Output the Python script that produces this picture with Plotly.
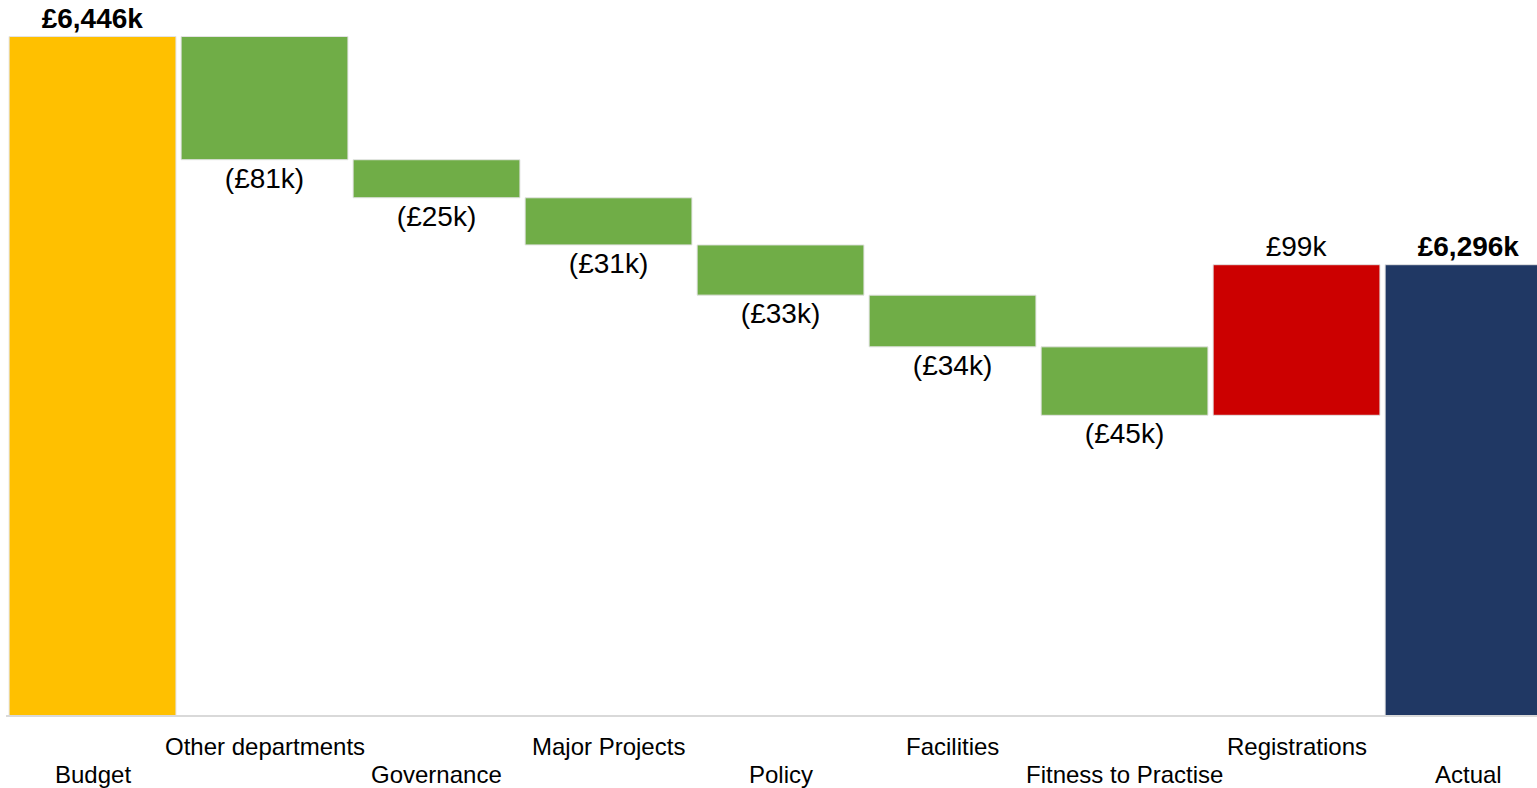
import numpy as np
import plotly.graph_objects as go

# Budget-to-actual bridge (values in £k)
categories = ["Budget", "Other departments", "Governance", "Major Projects", "Policy",
              "Facilities", "Fitness to Practise", "Registrations", "Actual"]
budget = 6446
changes = [-81, -25, -31, -33, -34, -45, 99]
actual = 6296

YELLOW = "#FFC000"
GREEN = "#70AD47"
RED = "#CC0000"
NAVY = "#203864"
FONT = "Arial, Liberation Sans, sans-serif"

# running totals give each step bar its floating base
running = budget + np.concatenate([[0], np.cumsum(changes)[:-1]])

x_pos = list(range(len(categories)))
bases = [0] + list(running) + [0]
heights = [budget] + list(changes) + [actual]
colors = [YELLOW] + [GREEN if c < 0 else RED for c in changes] + [NAVY]


def fmt(v, total=False):
    s = f"£{abs(v):,}k"
    if total:
        return f"<b>{s}</b>"
    return f"({s})" if v < 0 else s


texts = [fmt(budget, True)] + [fmt(c) for c in changes] + [fmt(actual, True)]

fig = go.Figure(go.Bar(
    x=x_pos,
    y=heights,
    base=bases,
    width=0.97,
    marker=dict(color=colors, line=dict(color="#e3e3e3", width=1)),
    text=texts,
    textposition="outside",
    constraintext="none",
    cliponaxis=False,
    textfont=dict(family=FONT, size=28, color="#000000"),
    hoverinfo="skip",
))

# category labels staggered on two rows under the axis
for i, name in enumerate(categories):
    fig.add_annotation(
        x=i, y=0, xref="x", yref="paper",
        text=name, showarrow=False,
        yanchor="middle",
        yshift=-31 if i % 2 == 1 else -59,
        font=dict(family=FONT, size=24, color="#000000"),
    )

fig.update_layout(
    width=1537, height=788,
    margin=dict(l=6, r=0, t=0, b=73),
    paper_bgcolor="white",
    plot_bgcolor="white",
    showlegend=False,
    bargap=0.03,
    xaxis=dict(
        range=[-0.503, 8.398],
        showticklabels=False,
        showgrid=False,
        zeroline=False,
        showline=True,
        linecolor="#d9d9d9",
        linewidth=2,
        ticks="",
    ),
    yaxis=dict(
        range=[6000, 6470],
        visible=False,
        showgrid=False,
        zeroline=False,
    ),
)

fig.write_html("out.html")
